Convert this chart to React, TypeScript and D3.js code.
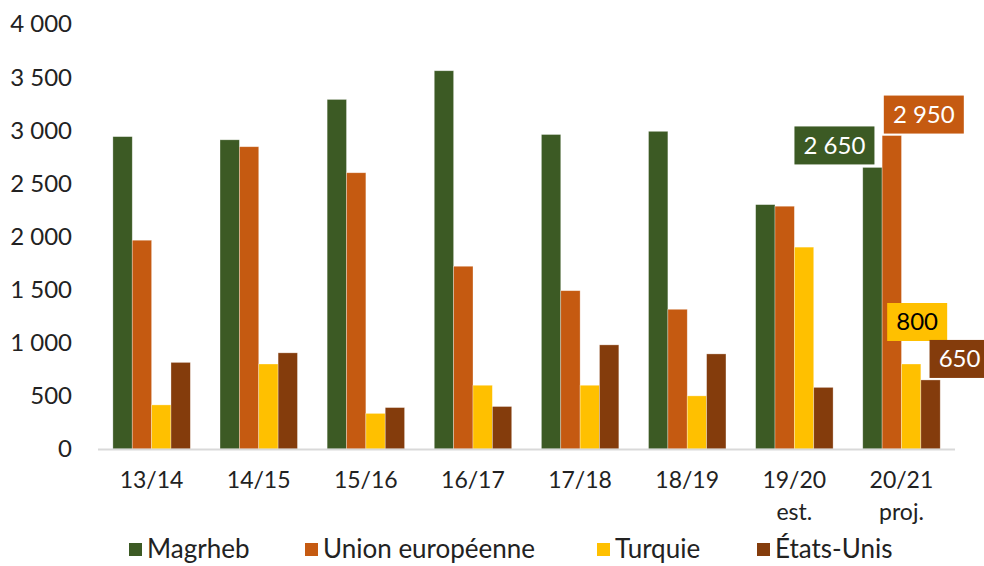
import React from "react";
import * as d3 from "d3";

const categories = ["13/14", "14/15", "15/16", "16/17", "17/18", "18/19", "19/20\nest.", "20/21\nproj."];
const seriesNames = ["Magrheb", "Union européenne", "Turquie", "États-Unis"];
const magrheb = [2940, 2910, 3290, 3560, 2960, 2990, 2300, 2650];
const unionEuropeenne = [1965, 2845, 2600, 1720, 1490, 1315, 2285, 2950];
const turquie = [415, 800, 335, 600, 600, 500, 1900, 800];
const etatsUnis = [815, 905, 390, 400, 980, 895, 580, 650];
const yTicks = [0, 500, 1000, 1500, 2000, 2500, 3000, 3500, 4000];
const labelTexts = ["2 650", "2 950", "800", "650"];

const colors = ["#3c5a24", "#c55a11", "#ffc000", "#843c0c"];
const labelTextColors = ["#ffffff", "#ffffff", "#000000", "#ffffff"];

const W = 984;
const H = 566;
const FONT = "Lato, 'Open Sans', sans-serif";

export default function App() {
  const series = [magrheb, unionEuropeenne, turquie, etatsUnis];
  const y = d3.scaleLinear().domain([0, 4000]).range([449, 24]);
  const x = d3.scaleBand().domain(categories).range([98, 955]).paddingInner(0).paddingOuter(0);
  const step = x.bandwidth();
  const inner = d3.scaleBand().domain(seriesNames).range([step * 0.139, step * 0.862]);
  const fmt = (v: number) => d3.format(",")(v).replace(/,/g, " ");

  const last = categories.length - 1;
  const labelOffsets = [
    { dx: -38, dy: -3, w: 80, h: 38 },
    { dx: 32, dy: -2, w: 80, h: 38 },
    { dx: 6, dy: -23, w: 60, h: 38 },
    { dx: 29, dy: -2, w: 60, h: 38 },
  ];

  return (
    <svg width={W} height={H} style={{ position: "absolute", left: 0, top: 0, background: "#fff" }}>
      <rect x={0} y={0} width={W} height={H} fill="#fff" />
      {yTicks.map((t) => (
        <text key={t} x={72} y={y(t)} dy="0.35em" textAnchor="end" fontFamily={FONT} fontSize={24} fill="#222">
          {fmt(t)}
        </text>
      ))}
      {categories.map((c, ci) => (
        <g key={c}>
          {series.map((s, si) => {
            const bx = (x(c) as number) + (inner(seriesNames[si]) as number);
            return (
              <rect
                key={si}
                x={bx}
                y={y(s[ci])}
                width={inner.bandwidth()}
                height={y(0) - y(s[ci])}
                fill={colors[si]}
                stroke="#ffffff"
                strokeOpacity={0.45}
                strokeWidth={0.7}
              />
            );
          })}
          {c.split("\n").map((line, li) => (
            <text
              key={li}
              x={(x(c) as number) + step / 2}
              y={480 + li * 32}
              dy="0.35em"
              textAnchor="middle"
              fontFamily={FONT}
              fontSize={23}
              fill="#222"
            >
              {line}
            </text>
          ))}
        </g>
      ))}
      <line x1={98} x2={955} y1={y(0) + 0.5} y2={y(0) + 0.5} stroke="#d9d9d9" strokeWidth={2} />
      {series.map((s, si) => {
        const c = categories[last];
        const bx = (x(c) as number) + (inner(seriesNames[si]) as number) + inner.bandwidth() / 2;
        const o = labelOffsets[si];
        const cx = bx + o.dx;
        const bottom = y(s[last]) + o.dy;
        return (
          <g key={si}>
            <rect x={cx - o.w / 2} y={bottom - o.h} width={o.w} height={o.h} fill={colors[si]} />
            <text
              x={cx}
              y={bottom - o.h / 2}
              dy="0.35em"
              textAnchor="middle"
              fontFamily={FONT}
              fontSize={24}
              fill={labelTextColors[si]}
            >
              {labelTexts[si]}
            </text>
          </g>
        );
      })}
      {seriesNames.map((n, i) => {
        const lx = [129, 305, 597, 757][i];
        return (
          <g key={n}>
            <rect x={lx} y={543} width={13} height={13} fill={colors[i]} />
            <text x={lx + 18} y={549} dy="0.35em" fontFamily={FONT} fontSize={26} fill="#222">
              {n}
            </text>
          </g>
        );
      })}
    </svg>
  );
}
